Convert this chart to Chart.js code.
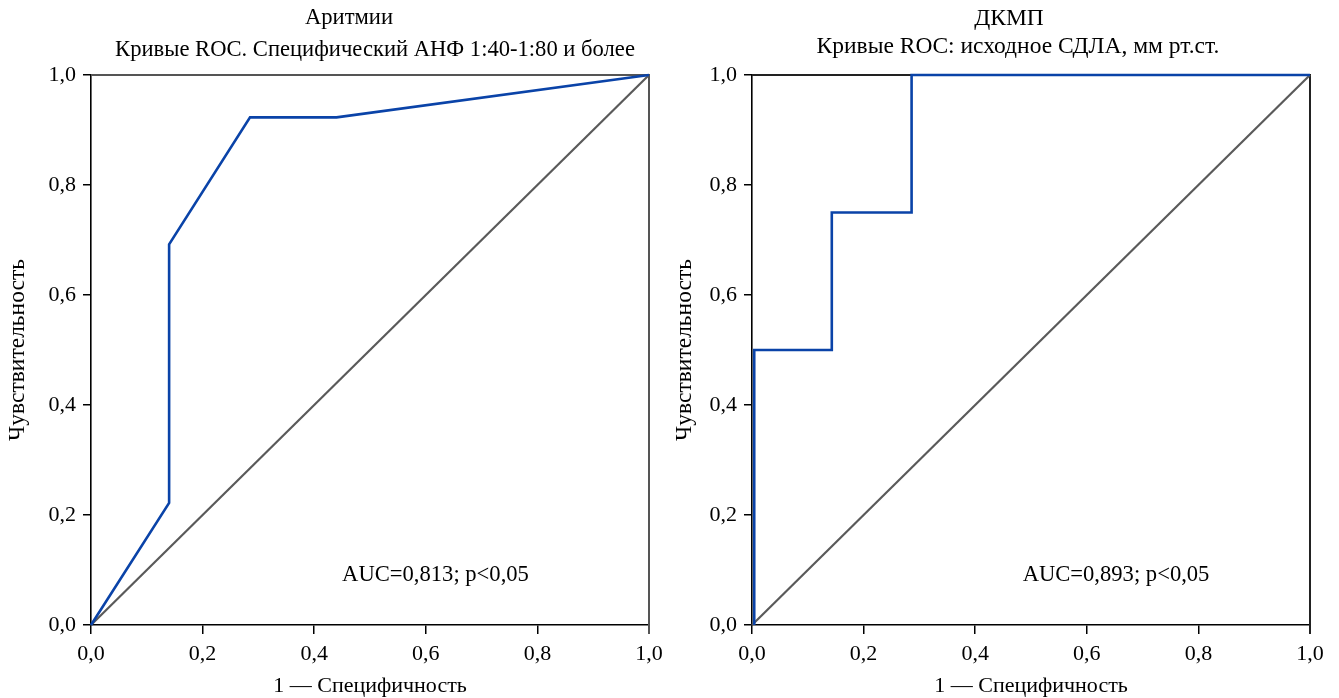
<!DOCTYPE html>
<html>
<head>
<meta charset="utf-8">
<script src="https://cdn.jsdelivr.net/npm/chart.js@4/dist/chart.umd.min.js"></script>
<style>
  html, body { margin: 0; padding: 0; background: #fff; }
  #wrap { position: relative; width: 1339px; height: 698px; }
  canvas { position: absolute; top: 0; }
</style>
</head>
<body>
<div id="wrap">
  <canvas id="c1" width="670" height="698" style="left:0px"></canvas>
  <canvas id="c2" width="669" height="698" style="left:670px"></canvas>
</div>
<script>
// ---- Data ----
const tickValues = [0, 0.2, 0.4, 0.6, 0.8, 1.0];
const tickLabels = ['0,0', '0,2', '0,4', '0,6', '0,8', '1,0'];

const leftTitle = 'Аритмии';
const leftSubtitle = 'Кривые ROC. Специфический АНФ 1:40-1:80 и более';
const leftFpr = [0, 0.14, 0.14, 0.285, 0.44, 1.0];
const leftTpr = [0, 0.222, 0.692, 0.923, 0.923, 1.0];
const leftAuc = 'AUC=0,813; p<0,05';

const rightTitle = 'ДКМП';
const rightSubtitle = 'Кривые ROC: исходное СДЛА, мм рт.ст.';
const rightFpr = [0.004, 0.004, 0.143, 0.143, 0.286, 0.286, 1.0];
const rightTpr = [0, 0.5, 0.5, 0.75, 0.75, 1.0, 1.0];
const rightAuc = 'AUC=0,893; p<0,05';

const refFpr = [0, 1];
const refTpr = [0, 1];

const xTitle = '1 — Специфичность';
const yTitle = 'Чувствительность';

// ---- Styling ----
const FONT = '"Liberation Serif", "DejaVu Serif", serif';
const FS = 22;
const BLUE = '#0a43a8';
const GRAY = '#5a5a5a';

function pts(xs, ys) { return xs.map((x, i) => ({ x: x, y: ys[i] })); }

function makeChart(id, cfg) {
  const frame = {
    id: 'frame',
    beforeDatasetsDraw(chart) {
      const { ctx, chartArea: a } = chart;
      ctx.save();
      ctx.lineWidth = 2;
      ctx.strokeStyle = cfg.frameColor;
      ctx.beginPath();
      ctx.moveTo(a.left, a.top);
      ctx.lineTo(a.right, a.top);
      ctx.lineTo(a.right, a.bottom + 9);
      ctx.stroke();
      ctx.restore();
    },
    afterDraw(chart) {
      const { ctx, scales } = chart;
      ctx.save();
      ctx.fillStyle = '#000';
      ctx.textAlign = 'center';
      ctx.textBaseline = 'middle';
      ctx.font = cfg.titleSize + 'px ' + FONT;
      ctx.fillText(cfg.title, cfg.titleX, 18.5);
      ctx.fillText(cfg.subtitle, cfg.subX, cfg.subY);
      ctx.font = '22.6px ' + FONT;
      ctx.textAlign = 'left';
      ctx.fillText(cfg.auc, scales.x.getPixelForValue(cfg.aucX), scales.y.getPixelForValue(0.09));
      ctx.restore();
    }
  };
  return new Chart(document.getElementById(id), {
    type: 'scatter',
    data: {
      datasets: [
        {
          data: pts(cfg.fpr, cfg.tpr),
          showLine: true, borderColor: BLUE, borderWidth: 2.6,
          pointRadius: 0, borderJoinStyle: 'miter', clip: false, tension: 0
        },
        {
          data: pts(refFpr, refTpr),
          showLine: true, borderColor: GRAY, borderWidth: 2.2,
          pointRadius: 0, clip: false, tension: 0
        }
      ]
    },
    options: {
      responsive: false,
      animation: false,
      events: [],
      layout: { padding: { left: 0, right: cfg.padRight, top: 75, bottom: 0 } },
      plugins: { legend: { display: false }, tooltip: { enabled: false }, title: { display: false } },
      scales: {
        x: {
          type: 'linear', min: 0, max: 1,
          afterBuildTicks(s) { s.ticks = tickValues.map(v => ({ value: v })); },
          afterFit(s) { s.height = 73; },
          ticks: {
            color: '#000', padding: 7, maxRotation: 0, autoSkip: false,
            font: { family: FONT, size: FS },
            callback: (v, i) => tickLabels[i]
          },
          grid: { drawOnChartArea: false, drawTicks: true, tickLength: 9, color: '#000', lineWidth: 1.5 },
          border: { display: true, color: '#000', width: 1.6 },
          title: { display: true, text: xTitle, color: '#000', font: { family: FONT, size: FS, lineHeight: 1 }, padding: { top: 0, bottom: 1 } }
        },
        y: {
          type: 'linear', min: 0, max: 1,
          afterBuildTicks(s) { s.ticks = tickValues.map(v => ({ value: v })); },
          afterFit(s) { s.width = cfg.yWidth; },
          ticks: {
            color: '#000', padding: 7, autoSkip: false,
            font: { family: FONT, size: FS },
            callback: (v, i) => tickLabels[i]
          },
          grid: { drawOnChartArea: false, drawTicks: true, tickLength: 8, color: '#000', lineWidth: 1.5 },
          border: { display: true, color: '#000', width: 1.6 },
          title: { display: true, text: yTitle, color: '#000', font: { family: FONT, size: 23.5, lineHeight: 1 }, padding: { top: cfg.yTitlePad, bottom: 0 } }
        }
      }
    },
    plugins: [frame]
  });
}

makeChart('c1', {
  title: leftTitle, subtitle: leftSubtitle, auc: leftAuc, aucX: 0.45,
  titleSize: 22.6, titleX: 349, subX: 375, subY: 50,
  fpr: leftFpr, tpr: leftTpr, padRight: 21, yWidth: 91, yTitlePad: 6,
  frameColor: '#555'
});
makeChart('c2', {
  title: rightTitle, subtitle: rightSubtitle, auc: rightAuc, aucX: 0.485,
  titleSize: 23.5, titleX: 339, subX: 348, subY: 47,
  fpr: rightFpr, tpr: rightTpr, padRight: 29, yWidth: 82, yTitlePad: 3,
  frameColor: '#222'
});
</script>
</body>
</html>
